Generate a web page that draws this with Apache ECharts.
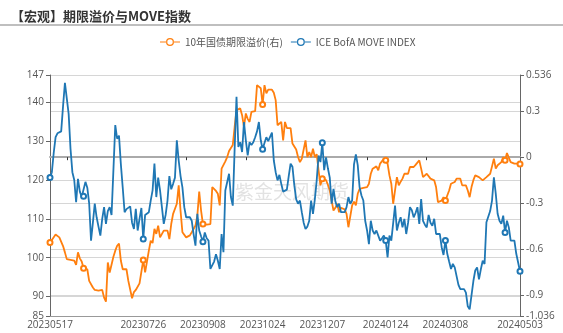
<!DOCTYPE html>
<html>
<head>
<meta charset="utf-8">
<script src="https://cdn.jsdelivr.net/npm/echarts@6/dist/echarts.min.js"></script>
<style>html,body{margin:0;padding:0;background:#fff}#c{width:563px;height:333px}</style>
</head>
<body>
<div id="c"></div>
<script>
// ---- data ----
const titleText = '【宏观】期限溢价与MOVE指数';
const seriesNames = ['10年国债期限溢价(右)', 'ICE BofA MOVE INDEX'];
const startDate = '2023-05-17';
const endDate = '2024-05-03';
const tickLabels = ['20230517','20230726','20230908','20231024','20231207','20240124','20240308','20240503'];
const markerDates = ['20230517','20230612','20230726','20230908','20231024','20231207','20240124','20240308','20240423','20240503'];
const leftMin = 85, leftMax = 147;
const rightMin = -1.036, rightMax = 0.536;

// ICE BofA MOVE INDEX (left axis)
const moveIndex = [
120.6,122,127,131,132,131.5,132.5,139,145,141,
137,128,122,120,114.3,120.3,117,115.6,115.8,119.5,
118,114,104.4,109,113.9,110.4,108,105.7,110,113,
108.7,112,113,111,110.6,134.1,130.6,131.4,124,118,
111.7,112.5,113,113.2,109,107.4,112.6,107,110,112.8,
104.8,111,111.2,111.7,114.7,117.3,124.2,115.6,120.6,117.3,
113,108.7,111,114.7,121,117.6,119,120.6,130.2,125,
121,118.1,113,110.4,110.6,110.4,109.5,106,103.1,111.3,
107,105.5,104.1,106.5,105,104.4,97.1,96.7,99,100.9,
99.2,97.1,106.1,101.4,117.3,117.7,121.6,115.6,113.4,128,
141.4,128.5,129.7,127.2,134.9,130.2,126.3,129.7,129,129.7,
131,132.5,134.9,130.2,127.9,129.5,131,130,129.7,132.2,
125,122,119.9,121.3,119,117,117.3,117.5,121,124.2,
123.4,118.6,115,113.9,114.7,111.7,109,107.4,108,109.5,
114.7,111.3,115,119.9,126.3,124.6,129.6,122.5,125.8,123,
120.6,113.9,117.7,114.5,113,113.9,111.7,112,111.7,113,
115.6,113.9,114.7,124,126.6,123.8,118.1,116,114.7,109.5,
107,103.5,109.5,107,106.1,107,107.4,104.4,105,105.7,
104.4,100.1,105.7,104.4,104.4,113.4,107,109,110.4,107.8,
110,106.1,109,113,112.2,110.4,111.5,113,108.7,115.1,
109.5,108.5,107.8,111,109,108.2,110,106.1,106.3,106.1,
102.7,100.7,104.4,101,99,97.1,98.4,97.5,97.1,93,
91.9,91.5,91.9,91,87.5,86.7,87,94,96.7,97.5,
94.4,97,99.2,98.4,109.1,109.1,112,114.7,120.7,116.5,
111.3,109.5,108.7,110.8,106.5,109.5,107.8,104.4,104.6,104.4,
101,101,96.5
];

// 10年国债期限溢价 (right axis)
const termPremium = [
-0.556,-0.54,-0.53,-0.505,-0.51,-0.523,-0.534,-0.58,-0.621,-0.665,
-0.665,-0.67,-0.68,-0.675,-0.702,-0.621,-0.66,-0.68,-0.724,-0.72,
-0.731,-0.807,-0.805,-0.85,-0.866,-0.877,-0.87,-0.866,-0.866,-0.916,
-0.942,-0.687,-0.752,-0.745,-0.65,-0.61,-0.578,-0.563,-0.676,-0.731,
-0.72,-0.731,-0.807,-0.81,-0.92,-0.88,-0.866,-0.866,-0.823,-0.82,
-0.671,-0.752,-0.763,-0.61,-0.545,-0.56,-0.468,-0.5,-0.447,-0.523,
-0.534,-0.479,-0.49,-0.479,-0.534,-0.436,-0.37,-0.37,-0.304,-0.184,
-0.35,-0.49,-0.49,-0.523,-0.515,-0.51,-0.49,-0.5,-0.446,-0.381,
-0.224,-0.348,-0.436,-0.436,-0.44,-0.446,-0.436,-0.195,-0.195,-0.22,
-0.239,-0.315,-0.075,-0.085,-0.027,0.001,0.04,0.06,0.08,0.197,
0.307,0.32,0.318,0.274,0.197,0.285,0.25,0.23,0.296,0.296,
0.3,0.47,0.481,0.45,0.344,0.47,0.416,0.44,0.445,0.44,
0.42,0.372,0.208,0.21,0.23,0.11,0.23,0.19,0.19,0.19,
0.089,0.089,0.05,0.001,-0.032,-0.01,-0.02,0.11,0,0.034,
0,0.055,0,0.02,-0.086,-0.184,-0.14,-0.14,-0.15,-0.18,
-0.217,-0.283,-0.348,-0.33,-0.304,-0.359,-0.33,-0.32,-0.34,-0.37,
-0.457,-0.45,-0.315,-0.29,-0.315,-0.239,-0.206,-0.217,-0.2,-0.2,
-0.195,-0.173,-0.108,-0.075,-0.064,-0.06,-0.086,-0.042,-0.03,-0.01,
-0.02,-0.042,-0.119,-0.173,-0.304,-0.217,-0.13,-0.184,-0.16,-0.14,
-0.108,-0.119,-0.108,-0.064,-0.053,-0.064,-0.05,-0.042,-0.021,-0.075,
-0.13,-0.12,-0.108,-0.119,-0.14,-0.151,-0.151,-0.195,-0.293,-0.304,
-0.283,-0.261,-0.283,-0.25,-0.217,-0.173,-0.162,-0.162,-0.14,-0.14,
-0.14,-0.184,-0.173,-0.184,-0.217,-0.261,-0.195,-0.15,-0.119,-0.108,
-0.13,-0.119,-0.151,-0.14,-0.13,-0.13,-0.108,-0.06,-0.01,-0.075,
-0.053,-0.064,-0.032,0,-0.02,0.027,0.017,-0.032,-0.042,-0.042,
-0.042,-0.042,-0.045
];

// trading-day categories (weekdays)
const dates = [];
(function () {
  const d = new Date(startDate + 'T00:00:00Z');
  const e = new Date(endDate + 'T00:00:00Z');
  while (d <= e) {
    const w = d.getUTCDay();
    if (w !== 0 && w !== 6) {
      const s = d.getUTCFullYear() + String(d.getUTCMonth() + 1).padStart(2, '0') + String(d.getUTCDate()).padStart(2, '0');
      dates.push(s);
    }
    d.setUTCDate(d.getUTCDate() + 1);
  }
})();

const zeroTickIdx = [9, 73, 105, 170, 202];
const ORANGE = '#ff7f0e', BLUE = '#1f77b4';
const numFont = 'Open Sans, Liberation Sans, sans-serif';
const cjkFont = 'Noto Sans CJK SC, Noto Sans, sans-serif';
// legend icon: short line with a hollow ring in the middle
const legendIcon = 'path://M0,4 L6.2,4 L6.2,5 L0,5 Z M13.8,4 L20,4 L20,5 L13.8,5 Z ' +
  'M6,4.5 A4,4 0 1,0 14,4.5 A4,4 0 1,0 6,4.5 Z M7.3,4.5 A2.7,2.7 0 1,1 12.7,4.5 A2.7,2.7 0 1,1 7.3,4.5 Z';

const chart = echarts.init(document.getElementById('c'), null, {renderer: 'canvas'});
const markerFn = function (v, p) { return markerDates.indexOf(dates[p.dataIndex]) >= 0 ? 'emptyCircle' : 'none'; };

chart.setOption({
  animation: false,
  backgroundColor: '#fff',
  title: {
    text: titleText, left: 6, top: 5,
    textStyle: {fontSize: 13, fontWeight: 'bold', color: '#333', fontFamily: cjkFont}
  },
  graphic: [
    {type: 'line', shape: {x1: 0, y1: 25, x2: 563, y2: 25}, style: {stroke: '#aaa', lineWidth: 1.5}, silent: true},
    {type: 'text', left: 235, top: 182, z: 0, silent: true,
     style: {text: '紫金天风期货', fontSize: 19, fill: 'rgba(190,190,190,0.45)', fontFamily: cjkFont}}
  ],
  legend: {
    left: 155, top: 32, itemWidth: 20, itemHeight: 9, itemGap: 8,
    textStyle: {fontSize: 10, color: '#555', fontFamily: cjkFont},
    data: [
      {name: seriesNames[0], icon: legendIcon, itemStyle: {color: ORANGE}},
      {name: seriesNames[1], icon: legendIcon, itemStyle: {color: BLUE}}
    ]
  },
  grid: {left: 50, right: 43, top: 75, bottom: 17, containLabel: false},
  xAxis: [
    {
      type: 'category', data: dates, boundaryGap: false,
      axisLine: {onZero: false, lineStyle: {color: '#999', width: 1}},
      axisTick: {show: false},
      axisLabel: {
        interval: function (i, v) { return tickLabels.indexOf(v) >= 0; },
        color: '#555', fontSize: 10, fontFamily: numFont, margin: 4, hideOverlap: false
      },
      splitLine: {show: false}
    },
    {
      type: 'category', data: dates, boundaryGap: false, position: 'bottom',
      axisLine: {onZero: true, onZeroAxisIndex: 1, lineStyle: {color: '#aaa', width: 2}},
      axisTick: {show: true, length: 3, interval: function (i) { return zeroTickIdx.indexOf(i) >= 0; }, lineStyle: {color: '#333', width: 1}},
      axisLabel: {show: false},
      splitLine: {show: false}
    }
  ],
  yAxis: [
    {
      type: 'value', min: leftMin, max: leftMax, position: 'left',
      axisLine: {show: true, lineStyle: {color: '#666'}},
      axisTick: {show: true, length: 4, lineStyle: {color: '#666'}},
      axisLabel: {color: '#555', fontSize: 10, fontFamily: numFont, margin: 6},
      splitLine: {show: true, lineStyle: {color: '#d6d6d6', width: 1}}
    },
    {
      type: 'value', min: rightMin, max: rightMax, position: 'right',
      axisLine: {show: true, lineStyle: {color: '#666'}},
      axisTick: {show: true, length: 4, lineStyle: {color: '#666'}},
      axisLabel: {color: '#555', fontSize: 10, fontFamily: numFont, margin: 6},
      splitLine: {show: true, lineStyle: {color: '#d6d6d6', width: 1}}
    }
  ],
  series: [
    {
      name: seriesNames[0], type: 'line', xAxisIndex: 0, yAxisIndex: 1,
      data: termPremium, symbol: markerFn, symbolSize: 5, showSymbol: true, showAllSymbol: true,
      itemStyle: {color: ORANGE, borderWidth: 1}, lineStyle: {color: ORANGE, width: 1.8}, z: 3
    },
    {
      name: seriesNames[1], type: 'line', xAxisIndex: 0, yAxisIndex: 0,
      data: moveIndex, symbol: markerFn, symbolSize: 5, showSymbol: true, showAllSymbol: true,
      itemStyle: {color: BLUE, borderWidth: 1}, lineStyle: {color: BLUE, width: 1.8}, z: 4
    }
  ]
});
</script>
</body>
</html>
